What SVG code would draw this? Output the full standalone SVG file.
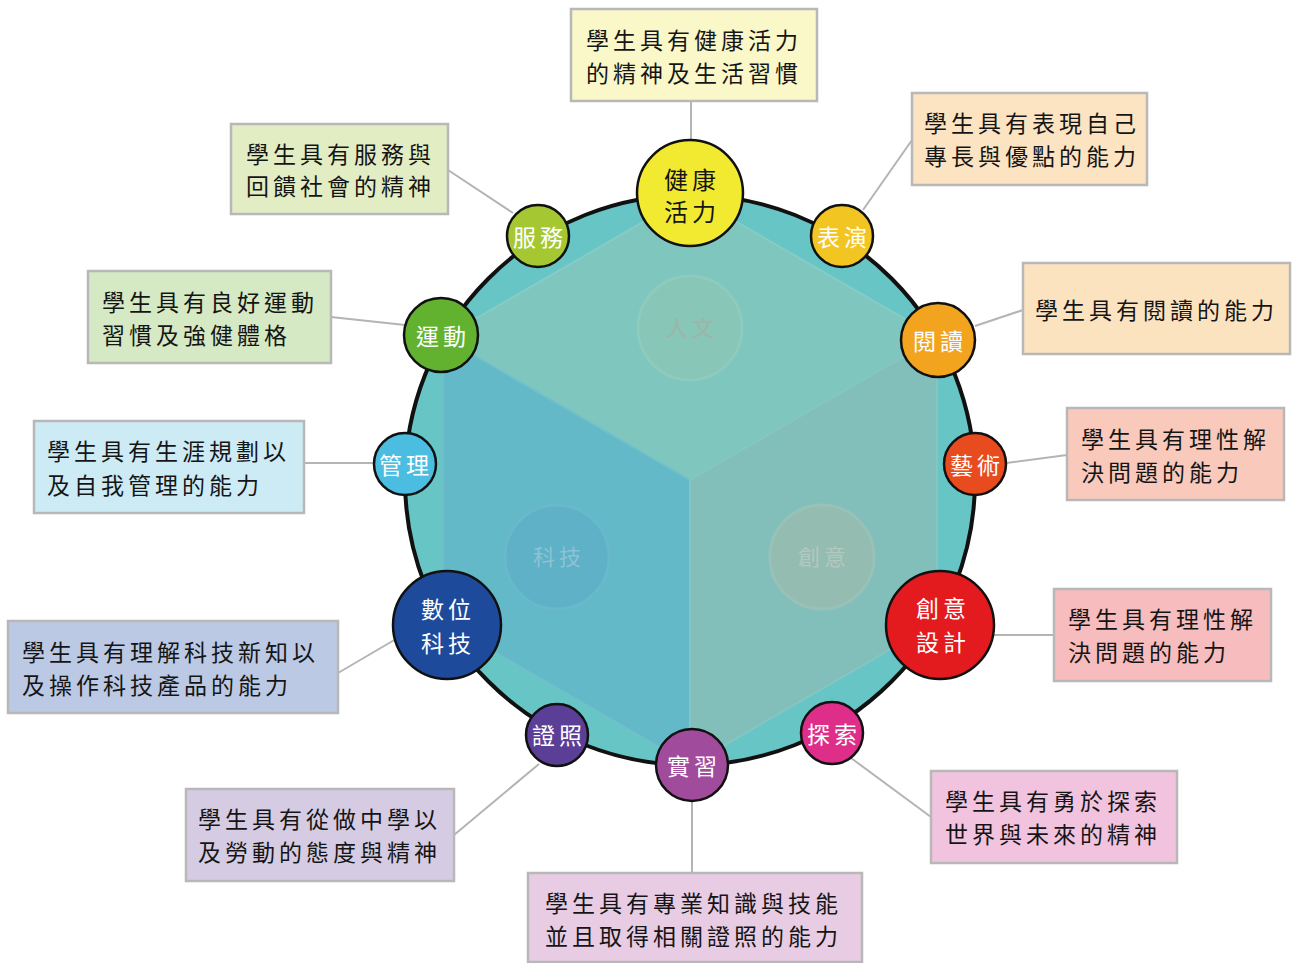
<svg xmlns="http://www.w3.org/2000/svg" width="1292" height="963" viewBox="0 0 1292 963">
<style>
.box{stroke:#B8B8B8;stroke-width:2.5}
.bt{font-family:"Noto Sans CJK TC","Noto Sans CJK SC",sans-serif;font-size:23px;letter-spacing:4px;fill:#151515}
.nd{stroke:#111;stroke-width:2.5}
.nt{font-family:"Noto Sans CJK TC","Noto Sans CJK SC",sans-serif;font-size:23px;letter-spacing:4px;fill:#fff;text-anchor:middle}
.it{font-family:"Noto Sans CJK TC","Noto Sans CJK SC",sans-serif;font-size:22px;letter-spacing:4px;text-anchor:middle}
.cn{stroke:#B4B4B4;stroke-width:2;fill:none}
</style>
<rect width="1292" height="963" fill="#fff"/>
<g id="wheel">
<circle cx="690" cy="480" r="285" fill="#68C5C6"/>
<polygon points="690,195 937,337.5 690,480 443,337.5" fill="#7EC6BE" stroke="#86CCC6" stroke-width="2"/>
<polygon points="443,337.5 690,480 690,765 443,622.5" fill="#64B9C8" stroke="#70C0CB" stroke-width="2"/>
<polygon points="937,337.5 937,622.5 690,765 690,480" fill="#82BFBB" stroke="#86C5C2" stroke-width="2"/>
<circle cx="690" cy="328" r="52" fill="#88C6B7" stroke="#8ECBBE" stroke-width="3"/>
<text class="it" x="692" y="336" fill="#9FB4A6">人文</text>
<circle cx="557" cy="557" r="52" fill="#5EB1C6" stroke="#6AB8CB" stroke-width="3"/>
<text class="it" x="559" y="565" fill="#8EC2D2">科技</text>
<circle cx="822" cy="557" r="52" fill="#94BCB1" stroke="#98C2B8" stroke-width="3"/>
<text class="it" x="824" y="565" fill="#B3C8BE">創意</text>
<circle cx="690" cy="480" r="285" fill="none" stroke="#111" stroke-width="4"/>
</g>
<g id="connectors">
<line class="cn" x1="691" y1="101" x2="691" y2="140"/>
<line class="cn" x1="448" y1="170" x2="513" y2="213"/>
<line class="cn" x1="912" y1="140" x2="863" y2="210"/>
<line class="cn" x1="331" y1="317" x2="405" y2="325"/>
<line class="cn" x1="1023" y1="310" x2="975" y2="326"/>
<line class="cn" x1="304" y1="463" x2="374" y2="463"/>
<line class="cn" x1="1006" y1="463" x2="1067" y2="455"/>
<line class="cn" x1="338" y1="673" x2="396" y2="639"/>
<line class="cn" x1="994" y1="635" x2="1054" y2="635"/>
<line class="cn" x1="851" y1="758" x2="931" y2="817"/>
<line class="cn" x1="454" y1="835" x2="539" y2="764"/>
<line class="cn" x1="692" y1="802" x2="692" y2="873"/>
</g>
<g id="box-health"><rect class="box" x="571" y="9" width="246" height="92" fill="#FAF7C8"/><text class="bt" x="586" y="48.5">學生具有健康活力</text><text class="bt" x="586" y="81.5">的精神及生活習慣</text></g>
<g id="box-service"><rect class="box" x="231" y="124" width="217" height="90" fill="#E3EDC4"/><text class="bt" x="246" y="162.5">學生具有服務與</text><text class="bt" x="246" y="194.5">回饋社會的精神</text></g>
<g id="box-perform"><rect class="box" x="912" y="93" width="235" height="92" fill="#FCE3C1"/><text class="bt" x="924" y="131.5">學生具有表現自己</text><text class="bt" x="924" y="164.5">專長與優點的能力</text></g>
<g id="box-sport"><rect class="box" x="88" y="271" width="243" height="92" fill="#D5E9C4"/><text class="bt" x="102" y="310.5">學生具有良好運動</text><text class="bt" x="102" y="343.5">習慣及強健體格</text></g>
<g id="box-read"><rect class="box" x="1023" y="263" width="267" height="91" fill="#FCE3C0"/><text class="bt" x="1035" y="318.5">學生具有閱讀的能力</text></g>
<g id="box-manage"><rect class="box" x="34" y="421" width="270" height="92" fill="#CDEBF5"/><text class="bt" x="47" y="459.5">學生具有生涯規劃以</text><text class="bt" x="47" y="493.5">及自我管理的能力</text></g>
<g id="box-art"><rect class="box" x="1067" y="408" width="217" height="92" fill="#F9C9BB"/><text class="bt" x="1081" y="447.5">學生具有理性解</text><text class="bt" x="1081" y="480.5">決問題的能力</text></g>
<g id="box-digital"><rect class="box" x="8" y="621" width="330" height="92" fill="#BCC9E4"/><text class="bt" x="22" y="660.5">學生具有理解科技新知以</text><text class="bt" x="22" y="693.5">及操作科技產品的能力</text></g>
<g id="box-creative"><rect class="box" x="1054" y="589" width="217" height="92" fill="#F7BCBD"/><text class="bt" x="1068" y="627.5">學生具有理性解</text><text class="bt" x="1068" y="660.5">決問題的能力</text></g>
<g id="box-explore"><rect class="box" x="931" y="771" width="246" height="92" fill="#F2C3DE"/><text class="bt" x="945" y="809.5">學生具有勇於探索</text><text class="bt" x="945" y="842.5">世界與未來的精神</text></g>
<g id="box-license"><rect class="box" x="186" y="789" width="268" height="92" fill="#D5CCE3"/><text class="bt" x="198" y="827.5">學生具有從做中學以</text><text class="bt" x="198" y="860.5">及勞動的態度與精神</text></g>
<g id="box-intern"><rect class="box" x="528" y="873" width="334" height="89" fill="#E8CCE4"/><text class="bt" x="545" y="911.5">學生具有專業知識與技能</text><text class="bt" x="545" y="944.5">並且取得相關證照的能力</text></g>
<g id="node-health"><circle class="nd" cx="690" cy="193" r="53" fill="#F2EA30"/><text class="nt" x="692" y="188.5" style="fill:#151515;font-size:24px">健康</text><text class="nt" x="692" y="220.5" style="fill:#151515;font-size:24px">活力</text></g>
<g id="node-service"><circle class="nd" cx="538" cy="236" r="31" fill="#A5C832"/><text class="nt" x="540" y="245.5">服務</text></g>
<g id="node-perform"><circle class="nd" cx="842" cy="236" r="31" fill="#F3C523"/><text class="nt" x="844" y="245.5">表演</text></g>
<g id="node-sport"><circle class="nd" cx="441" cy="335" r="37" fill="#62B22F"/><text class="nt" x="443" y="344.5">運動</text></g>
<g id="node-read"><circle class="nd" cx="938" cy="340" r="37" fill="#F2A41F"/><text class="nt" x="940" y="349.5">閱讀</text></g>
<g id="node-manage"><circle class="nd" cx="405" cy="464" r="31" fill="#4BBDE0"/><text class="nt" x="406" y="473.5">管理</text></g>
<g id="node-art"><circle class="nd" cx="975" cy="464" r="31" fill="#E84C1E"/><text class="nt" x="977" y="473.5">藝術</text></g>
<g id="node-digital"><circle class="nd" cx="447" cy="625" r="54" fill="#1E4A9C"/><text class="nt" x="448" y="617.5">數位</text><text class="nt" x="448" y="651.5">科技</text></g>
<g id="node-creative"><circle class="nd" cx="940" cy="625" r="54" fill="#E31B1E"/><text class="nt" x="943" y="616.5">創意</text><text class="nt" x="943" y="650.5">設計</text></g>
<g id="node-license"><circle class="nd" cx="557" cy="735" r="31" fill="#5B3E96"/><text class="nt" x="559" y="743.5">證照</text></g>
<g id="node-intern"><circle class="nd" cx="692" cy="765" r="36" fill="#A14B9C"/><text class="nt" x="694" y="774.5">實習</text></g>
<g id="node-explore"><circle class="nd" cx="832" cy="733" r="31" fill="#DE2E8A"/><text class="nt" x="834" y="742.5">探索</text></g>
</svg>
